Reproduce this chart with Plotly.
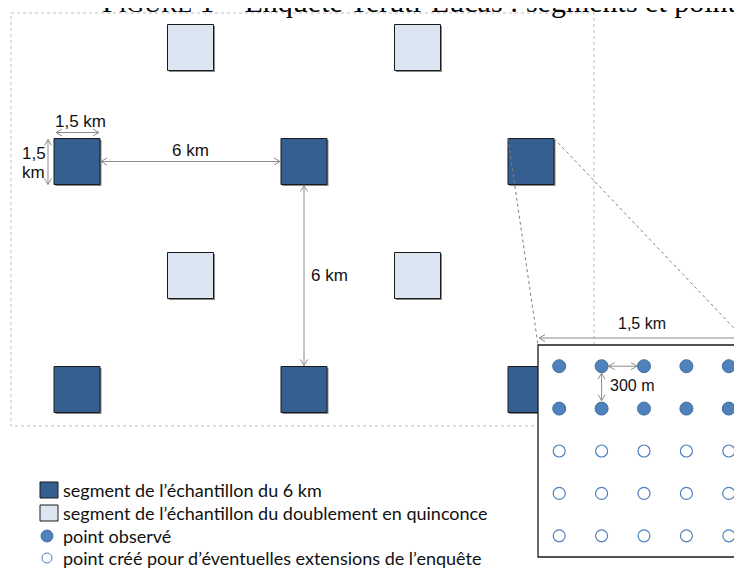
import math
import plotly.graph_objects as go

# ---------------- data ----------------
title_text = "F<span style='font-size:80%'>IGURE</span> 1 – Enquête Teruti-Lucas : segments et points"
dark_cols_km = [0, 6, 12]          # 6 km sample segments (columns)
dark_rows_km = [0, 6]              # 6 km sample segments (rows)
light_cols_km = [3, 9]             # staggered doubling segments (columns)
light_rows_km = [-3, 3]            # staggered doubling segments (rows)
inset_cols_m = [150, 450, 750, 1050, 1350]   # points inside a 1.5 km segment
inset_rows_m = [150, 450, 750, 1050, 1350]
observed_rows = [True, True, False, False, False]
legend_labels = [
    "segment de l’échantillon du 6 km",
    "segment de l’échantillon du doublement en quinconce",
    "point observé",
    "point créé pour d’éventuelles extensions de l’enquête",
]
label_seg = "1,5 km"
label_grid = "6 km"
label_pts = "300 m"

# ---------------- layout constants (page pixels) ----------------
PAGE_W, PAGE_H = 742, 569
OFF = 8                      # default body margin of the page
FW, FH = PAGE_W - OFF, PAGE_H - OFF
OX, OY = 77, 161.5
SX, SY = 227 / 6, 228 / 6
HALF = 23
INX0, INY0, INSIZE = 538, 345, 212
MS = INSIZE / 1500.0

DARK = "#365F91"
LIGHT = "#DCE6F2"
BLUE = "#4F81BD"
ARROW = "#8C8C8C"

def kx(v):
    return OX + v * SX

def ky(v):
    return OY + v * SY

def mx(v):
    return INX0 + v * MS

def my(v):
    return INY0 + v * MS

shapes = []
annotations = []

def line(x0, y0, x1, y1, color, width=1, dash="solid"):
    shapes.append(dict(type="line", xref="x", yref="y", x0=x0, y0=y0, x1=x1, y1=y1,
                       line=dict(color=color, width=width, dash=dash), layer="below"))

def rect(x0, y0, x1, y1, fill, color="#1a1a1a", width=1, dash="solid"):
    shapes.append(dict(type="rect", xref="x", yref="y", x0=x0, y0=y0, x1=x1, y1=y1,
                       fillcolor=fill, line=dict(color=color, width=width, dash=dash), layer="below"))

def chevron(px, py, dx, dy, L=6, Wd=3.5):
    n = math.hypot(dx, dy)
    ux, uy = dx / n, dy / n
    nx, ny = -uy, ux
    ax_, ay_ = px - L * ux + Wd * nx, py - L * uy + Wd * ny
    bx_, by_ = px - L * ux - Wd * nx, py - L * uy - Wd * ny
    shapes.append(dict(type="path", xref="x", yref="y",
                       path=f"M{ax_},{ay_} L{px},{py} L{bx_},{by_}",
                       line=dict(color=ARROW, width=1), layer="below"))

def double_arrow(x0, y0, x1, y1):
    line(x0, y0, x1, y1, ARROW, 1)
    chevron(x1, y1, x1 - x0, y1 - y0)
    chevron(x0, y0, x0 - x1, y0 - y1)

def text(x, y, s, size=17, family="Liberation Sans, Arial", xanchor="center", color="#111"):
    annotations.append(dict(x=x, y=y, xref="x", yref="y", text=s, showarrow=False,
                            xanchor=xanchor, yanchor="middle",
                            font=dict(family=family, size=size, color=color)))

def segment(cx, cy, fill):
    rect(cx - HALF + 1.5, cy - HALF + 1.5, cx + HALF + 1.5, cy + HALF + 1.5, "#8a8a8a", "#8a8a8a", 0)
    rect(cx - HALF, cy - HALF, cx + HALF, cy + HALF, fill, "#1a1a1a", 1)

# outer dotted frame
rect(11, 13, 594, 426, "rgba(0,0,0,0)", "#BFBFBF", 1, "dot")

# segments
for c in light_cols_km:
    for r in light_rows_km:
        segment(kx(c), ky(r), LIGHT)
for c in dark_cols_km:
    for r in dark_rows_km:
        segment(kx(c), ky(r), DARK)

# zoom lines from top-right segment to inset
zx, zy = kx(dark_cols_km[-1]), ky(dark_rows_km[0])
line(zx - HALF, zy - HALF, INX0, INY0, "#7F7F7F", 1, "dot")
line(zx + HALF, zy - HALF, INX0 + INSIZE, INY0, "#7F7F7F", 1, "dot")

# inset frame
rect(INX0, INY0, INX0 + INSIZE, INY0 + INSIZE, "white", "#1a1a1a", 1.3)

# dimension arrows
x_l, y_t = kx(dark_cols_km[0]), ky(dark_rows_km[0])
double_arrow(x_l - HALF + 2, y_t - HALF - 6, x_l + HALF - 1, y_t - HALF - 6)
text(x_l + 3, y_t - HALF - 17, label_seg)
double_arrow(x_l - HALF - 6, y_t - HALF + 1, x_l - HALF - 6, y_t + HALF)
text(20, y_t - 8, "1,5", xanchor="left")
text(20, y_t + 11, "km", xanchor="left")

x_m = kx(dark_cols_km[1])
double_arrow(x_l + HALF + 1, y_t, x_m - HALF - 1, y_t)
text((x_l + x_m) / 2, y_t - 11, label_grid)
y_b = ky(dark_rows_km[1])
double_arrow(x_m, y_t + HALF + 1, x_m, y_b - HALF - 1)
text(x_m + 5, (y_t + y_b) / 2, label_grid, xanchor="left")

# inset arrows
double_arrow(INX0 + 1, INY0 - 7, INX0 + INSIZE, INY0 - 7)
text(INX0 + 104, INY0 - 22, label_seg, size=16)
double_arrow(mx(inset_cols_m[1]) + 7, my(inset_rows_m[0]), mx(inset_cols_m[2]) - 7, my(inset_rows_m[0]))
double_arrow(mx(inset_cols_m[1]), my(inset_rows_m[0]) + 7, mx(inset_cols_m[1]), my(inset_rows_m[1]) - 8)
text(mx(inset_cols_m[1]) + 6, (my(inset_rows_m[0]) + my(inset_rows_m[1])) / 2 - 2, label_pts, size=16, xanchor="left")

# legend
LX, LT = 61, [490, 513, 536, 558]
rect(40, LT[0] - 8, 58, LT[0] + 8, DARK, "#1a1a1a", 1)
rect(40, LT[1] - 8, 58, LT[1] + 8, LIGHT, "#1a1a1a", 1)
shapes.append(dict(type="circle", xref="x", yref="y", x0=41, y0=LT[2] - 6, x1=53, y1=LT[2] + 6,
                   fillcolor=BLUE, line=dict(color="#41719C", width=1), layer="below"))
shapes.append(dict(type="circle", xref="x", yref="y", x0=42, y0=LT[3] - 5, x1=52, y1=LT[3] + 5,
                   fillcolor="white", line=dict(color=BLUE, width=1), layer="below"))
for yy, lab in zip(LT, legend_labels):
    text(LX, yy, lab, size=18, family="Lato, Carlito, sans-serif", xanchor="left", color="#111")

# inset points
fx, fy, ox_, oy_ = [], [], [], []
for r, obs in zip(inset_rows_m, observed_rows):
    for c in inset_cols_m:
        if obs:
            fx.append(mx(c)); fy.append(my(r))
        else:
            ox_.append(mx(c)); oy_.append(my(r))

fig = go.Figure()
fig.add_trace(go.Scatter(x=fx, y=fy, mode="markers", hoverinfo="skip",
                         marker=dict(size=13, color=BLUE, line=dict(color="#41719C", width=1))))
fig.add_trace(go.Scatter(x=ox_, y=oy_, mode="markers", hoverinfo="skip",
                         marker=dict(size=12, color="white", line=dict(color=BLUE, width=1.2))))

# title (cut off at the top like the reference)
annotations.append(dict(x=(100 - OFF) / FW, y=1 - 12 / FH, xref="paper", yref="paper", text=title_text,
                        showarrow=False, xanchor="left", yanchor="bottom",
                        font=dict(family="Liberation Serif, serif", size=30, color="#000")))

fig.update_layout(
    width=FW, height=FH, margin=dict(l=0, r=0, t=0, b=0),
    paper_bgcolor="white", plot_bgcolor="white", showlegend=False,
    xaxis=dict(range=[OFF, PAGE_W], visible=False, fixedrange=True),
    yaxis=dict(range=[PAGE_H, OFF], visible=False, fixedrange=True),
    shapes=shapes, annotations=annotations,
)
fig.write_html("out.html")
